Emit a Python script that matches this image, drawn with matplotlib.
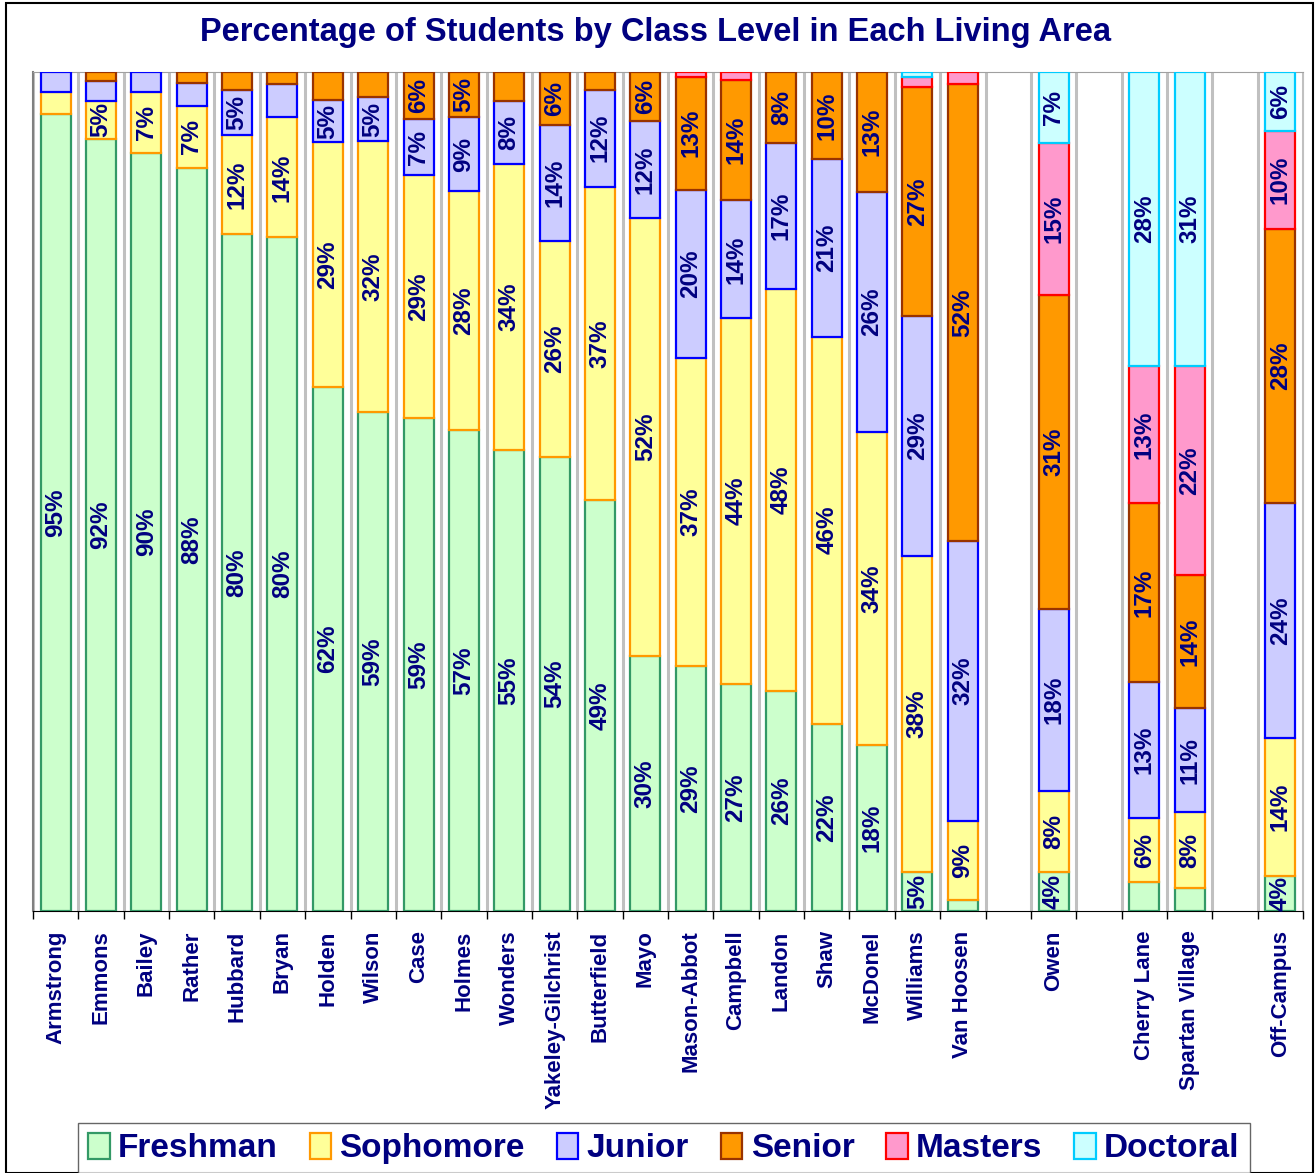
import matplotlib

matplotlib.use("Agg")
import matplotlib.pyplot as plt
import numpy as np
from matplotlib.patches import Rectangle

# ── Data (raw values as printed on the labels; bars are normalised to 100%) ──

halls = [
    "Armstrong", "Emmons", "Bailey", "Rather", "Hubbard", "Bryan", "Holden",
    "Wilson", "Case", "Holmes", "Wonders", "Yakeley-Gilchrist", "Butterfield",
    "Mayo", "Mason-Abbot", "Campbell", "Landon", "Shaw", "McDonel", "Williams",
    "Van Hoosen", "", "Owen", "", "Cherry Lane", "Spartan Village", "", "Off-Campus",
]

freshman = [95, 92, 90.3, 88.4, 80.4, 80.2, 62.4, 59.4, 58.8, 57.3, 54.9, 54.1, 49,
            30.4, 29.2, 27.1, 26.2, 22.3, 18, 4.6, 1.2, 0, 3.8, 0, 2.8, 2.4, 0, 3.6]
sophomore = [2.6, 4.6, 7.3, 7.4, 11.8, 14.3, 29.2, 32.3, 29, 28.4, 34, 25.7, 37.3,
             52.1, 36.7, 43.6, 47.8, 46.1, 34, 37.8, 9, 0, 8, 0, 6, 8, 0, 14]
junior = [2.4, 2.3, 2.4, 2.7, 5.4, 4.0, 5.1, 5.2, 6.7, 8.8, 7.6, 13.8, 11.6,
          11.6, 20, 14.1, 17.4, 21.1, 26, 28.6, 32, 0, 18, 0, 13, 11, 0, 24]
senior = [0, 1.1, 0, 1.3, 2.1, 1.4, 3.3, 3.0, 5.6, 5.4, 3.4, 6.3, 2.1,
          5.8, 13.4, 14.3, 8.4, 10.4, 13, 27.4, 52, 0, 31, 0, 17, 14, 0, 28]
masters = [0, 0, 0, 0, 0, 0, 0, 0, 0, 0, 0, 0, 0,
           0, 0.6, 1.0, 0, 0, 0, 1.2, 1.4, 0, 15, 0, 13, 22, 0, 10]
doctoral = [0, 0, 0, 0, 0, 0, 0, 0, 0, 0, 0, 0, 0,
            0, 0, 0, 0, 0, 0, 0.6, 0, 0, 7, 0, 28, 31, 0, 6]

levels = ["Freshman", "Sophomore", "Junior", "Senior", "Masters", "Doctoral"]
faces = ["#CCFFCC", "#FFFF99", "#CCCCFF", "#FF9900", "#FF99CC", "#CCFFFF"]
edges = ["#339966", "#FF9900", "#0000FF", "#993300", "#FF0000", "#00CCFF"]

# labels that were left off in the original chart
hidden = {(5, 2)}

NAVY = "#000080"
plt.rcParams["font.family"] = ["Liberation Sans", "DejaVu Sans"]
plt.rcParams["font.weight"] = "bold"

series = np.array([freshman, sophomore, junior, senior, masters, doctoral], dtype=float)
totals = series.sum(axis=0)
totals[totals == 0] = 1
pct = series / totals * 100

fig = plt.figure(figsize=(13.15, 11.73), dpi=100)
ax = fig.add_axes([33 / 1315, 1 - 911 / 1173, 1270 / 1315, 839 / 1173])

x = np.arange(len(halls))
bottom = np.zeros(len(halls))
for i, (lvl, fc, ec) in enumerate(zip(levels, faces, edges)):
    keep = pct[i] > 0
    ax.bar(x[keep], pct[i][keep], 0.66, bottom=bottom[keep], color=fc, edgecolor=ec,
           linewidth=1.6, label=lvl, zorder=3)
    for j in range(len(halls)):
        v = series[i, j]
        if v >= 3.5 and (j, i) not in hidden:
            ax.text(x[j], bottom[j] + pct[i, j] / 2, f"{v:.0f}%", rotation=90,
                    ha="center", va="center", color=NAVY, fontsize=17.5,
                    fontweight="bold", zorder=4)
    bottom += pct[i]

ax.set_xlim(-0.5, len(halls) - 0.5)
ax.set_ylim(0, 100)
ax.set_yticks([])
ax.set_xticks(np.arange(len(halls) + 1) - 0.5, minor=True)
ax.set_xticks(x)
ax.set_xticklabels(halls, rotation=90, color=NAVY, fontsize=16, fontweight="bold")
ax.tick_params(axis="x", which="major", length=0, pad=14)
ax.tick_params(axis="x", which="minor", length=6, width=1, color="black")
ax.grid(axis="x", which="minor", color="#C0C0C0", linewidth=2.2, zorder=0)
ax.spines["top"].set_color("#A0A0A0")
ax.spines["right"].set_color("#C0C0C0")
ax.spines["left"].set_color("#808080")
ax.spines["left"].set_linewidth(1.5)
ax.spines["bottom"].set_color("black")

fig.text(656 / 1315, 1 - 32 / 1173, "Percentage of Students by Class Level in Each Living Area",
         ha="center", va="center", color=NAVY, fontsize=23.5, fontweight="bold")

# chart frame
fig.patches.append(Rectangle((6 / 1315, 0), 1307 / 1315, 1 - 3 / 1173,
                             transform=fig.transFigure, fill=False,
                             edgecolor="black", linewidth=1.5))

handles, labels = ax.get_legend_handles_labels()
leg = fig.legend(handles, labels, loc="upper left", ncol=6,
                 bbox_to_anchor=(78 / 1315, 1 - 1123 / 1173), frameon=True,
                 fontsize=24, handlelength=0.65, handleheight=0.8,
                 handletextpad=0.25, columnspacing=0.95, borderpad=0.3,
                 borderaxespad=0)
leg.get_frame().set_edgecolor("#404040")
leg.get_frame().set_boxstyle("square", pad=0)
for t in leg.get_texts():
    t.set_color(NAVY)
    t.set_fontweight("bold")

fig.savefig("out.png", dpi=100)
